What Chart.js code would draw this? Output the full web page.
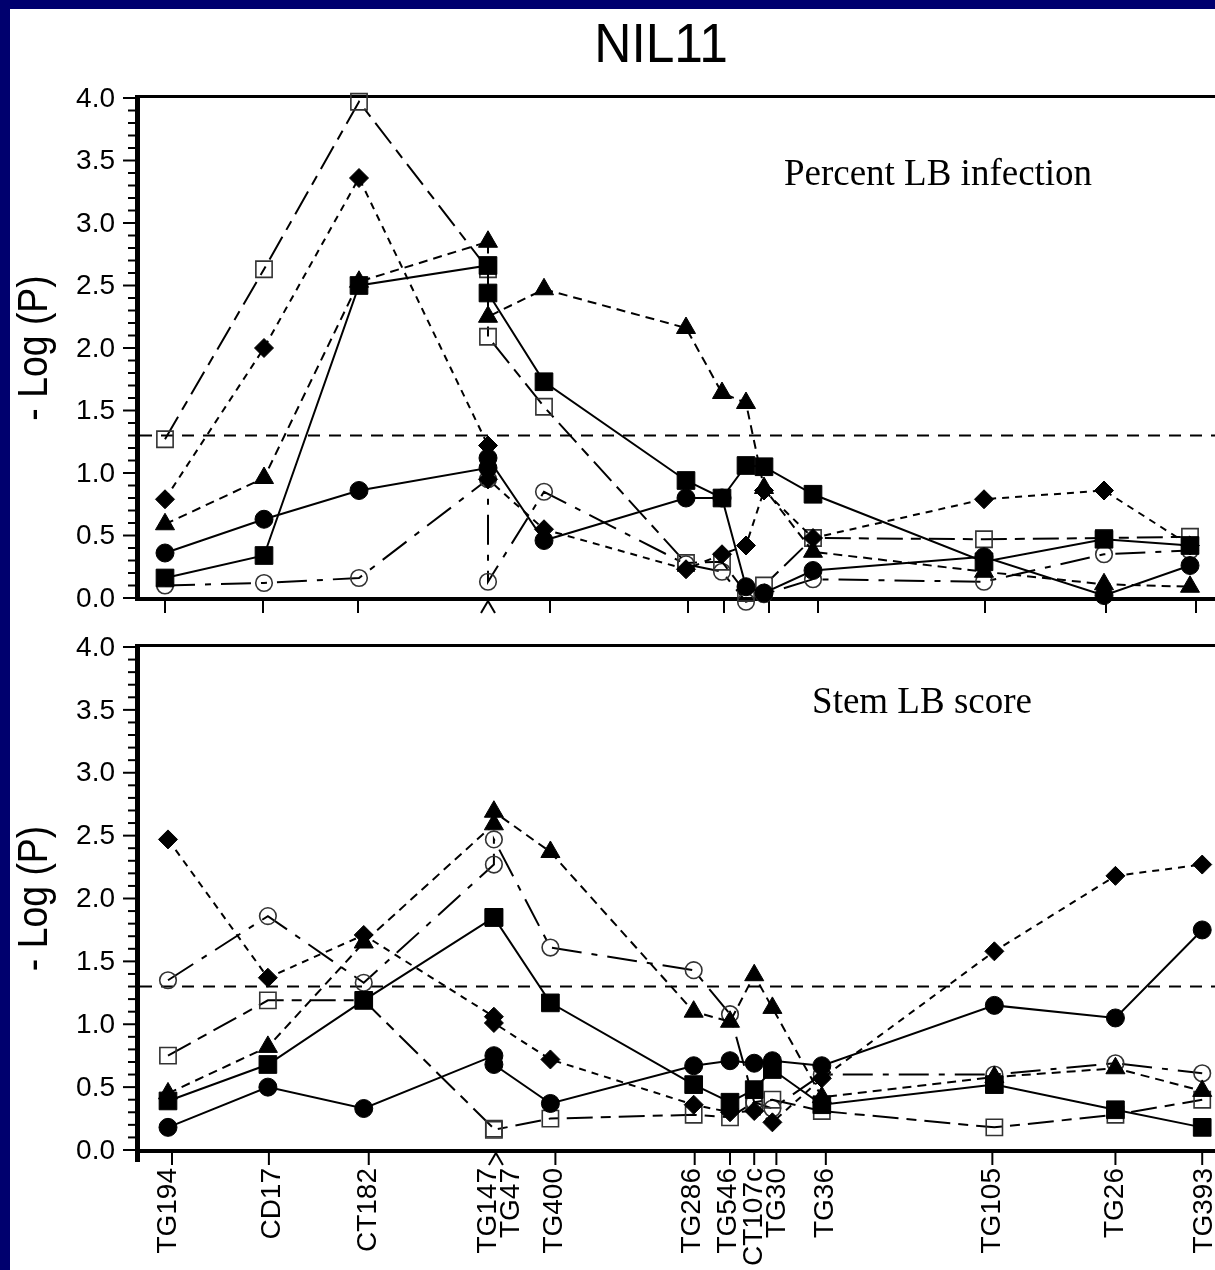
<!DOCTYPE html>
<html>
<head>
<meta charset="utf-8">
<script src="https://cdn.jsdelivr.net/npm/chart.js@4.4.1/dist/chart.umd.min.js"></script>
<style>
  html, body { margin:0; padding:0; width:1215px; height:1270px; overflow:hidden; background:#00006e; }
  #paper { position:absolute; left:10px; top:9px; width:1260px; height:1300px; background:#ffffff; }
  .wrap { position:absolute; left:0; top:0; width:1260px; height:1270px; }
  .wrap canvas { display:block; }
</style>
</head>
<body>
<div id="paper"></div>
<div class="wrap"><canvas id="topChart"></canvas></div>
<div class="wrap"><canvas id="botChart"></canvas></div>
<script>
// ---------------- DATA ----------------
const chartTitle = 'NIL11';
const yAxisTitle = '- Log (P)';
const markers = ['TG194','CD17','CT182','TG147','TG47','TG400','TG286','TG546','CT107c','TG30','TG36','TG105','TG26','TG393'];
const mapPos  = [0, 9.9, 19.4, 32.3, 32.3, 37.9, 52.1, 55.7, 58.1, 59.9, 64.8, 81.9, 93.9, 102.5];
const yTickValues = [0, 0.5, 1.0, 1.5, 2.0, 2.5, 3.0, 3.5, 4.0];
const threshold = 1.3;

// Panel 1: Percent LB infection
const topTitle = 'Percent LB infection';
const topFilledCircle = [0.36, 0.63, 0.86, 1.04, 1.12, 0.46, 0.80, 0.80, 0.09, 0.04, 0.22, 0.33, 0.02, 0.26];
const topFilledSquare = [0.16, 0.34, 2.50, 2.66, 2.44, 1.73, 0.94, 0.80, 1.06, 1.05, 0.83, 0.29, 0.47, 0.42];
const topTriangle     = [0.59, 0.96, 2.53, 2.85, 2.25, 2.47, 2.16, 1.64, 1.56, 0.88, 0.37, 0.21, 0.11, 0.09];
const topDiamond      = [0.79, 2.00, 3.36, 1.22, 0.95, 0.55, 0.23, 0.35, 0.42, 0.86, 0.48, 0.79, 0.86, 0.42];
const topOpenSquare   = [1.27, 2.63, 3.97, 2.63, 2.09, 1.53, 0.28, 0.29, 0.04, 0.10, 0.48, 0.47, 0.48, 0.49];
const topOpenCircle   = [0.10, 0.12, 0.16, 0.95, 0.13, 0.85, 0.27, 0.21, -0.03, 0.03, 0.15, 0.13, 0.35, 0.38];

// Panel 2: Stem LB score
const botTitle = 'Stem LB score';
const botFilledCircle = [0.18, 0.50, 0.33, 0.75, 0.68, 0.37, 0.67, 0.71, 0.69, 0.71, 0.67, 1.15, 1.05, 1.75];
const botFilledSquare = [0.39, 0.68, 1.19, 1.85, 1.85, 1.17, 0.52, 0.38, 0.48, 0.64, 0.36, 0.52, 0.32, 0.18];
const botTriangle     = [0.45, 0.82, 1.65, 2.59, 2.69, 2.37, 1.10, 1.02, 1.39, 1.13, 0.42, 0.58, 0.65, 0.47];
const botDiamond      = [2.47, 1.37, 1.71, 1.06, 1.01, 0.72, 0.36, 0.30, 0.31, 0.22, 0.57, 1.58, 2.18, 2.27];
const botOpenSquare   = [0.75, 1.19, 1.19, 0.17, 0.16, 0.25, 0.28, 0.26, 0.38, 0.40, 0.31, 0.18, 0.28, 0.40];
const botOpenCircle   = [1.35, 1.86, 1.33, 2.27, 2.47, 1.61, 1.43, 1.08, 0.38, 0.33, 0.60, 0.60, 0.69, 0.61];

// ---------------- LAYOUT / STYLE ----------------
const FONT = '"Liberation Sans", Arial, Helvetica, sans-serif';
const SERIF = '"Liberation Serif", "Times New Roman", serif';

const styles = [
  { pointStyle:'circle',   radius:9,    fill:'#000', border:'#000', bw:1,   dash:[] },
  { pointStyle:'rect',     radius:12.5, fill:'#000', border:'#000', bw:1,   dash:[] },
  { pointStyle:'triangle', radius:11,   fill:'#000', border:'#000', bw:1,   dash:[9,6] },
  { pointStyle:'rectRot',  radius:9.5,  fill:'#000', border:'#000', bw:1,   dash:[7,6] },
  { pointStyle:'rect',     radius:11.5, fill:'rgba(0,0,0,0)', border:'#333', bw:1.6, dash:[26,8,10,8] },
  { pointStyle:'circle',   radius:8.3,  fill:'rgba(0,0,0,0)', border:'#333', bw:1.6, dash:[30,10,6,10] }
];

function seg(ctx, x1, y1, x2, y2) {
  ctx.beginPath(); ctx.moveTo(x1, y1); ctx.lineTo(x2, y2); ctx.stroke();
}

function buildDatasets(seriesList, xmin, xmax) {
  const ds = seriesList.map((vals, k) => {
    const s = styles[k];
    return {
      data: vals.map((v, i) => ({ x: mapPos[i], y: v })),
      borderColor: '#000',
      borderWidth: 2,
      borderDash: s.dash,
      pointStyle: s.pointStyle,
      pointRadius: s.radius,
      pointBackgroundColor: s.fill,
      pointBorderColor: s.border,
      pointBorderWidth: s.bw,
      tension: 0,
      fill: false,
      clip: false
    };
  });
  ds.push({
    data: [{ x: xmin, y: threshold }, { x: xmax, y: threshold }],
    borderColor: '#000', borderWidth: 2, borderDash: [12, 9],
    pointRadius: 0, fill: false, clip: false
  });
  return ds;
}

const framePlugin = {
  id: 'frame',
  beforeDatasetsDraw(chart, args, o) {
    const ctx = chart.ctx, a = chart.chartArea;
    const xs = chart.scales.x, ys = chart.scales.y;
    const L = a.left, T = a.top, B = a.bottom;
    ctx.save();
    ctx.setLineDash([]);
    ctx.strokeStyle = '#000'; ctx.fillStyle = '#000';
    ctx.lineCap = 'butt';
    // frame top
    ctx.lineWidth = 3; seg(ctx, L - 2, T - 1.5, a.right + 20, T - 1.5);
    // bottom axis
    ctx.lineWidth = 4; seg(ctx, L - 5, B + 1, a.right + 20, B + 1);
    // left axis
    ctx.lineWidth = 5; seg(ctx, L - 2.5, T - 3, L - 2.5, B + o.axisExtend);
    // y ticks (minor every 0.1, major at labelled values)
    ctx.lineWidth = 2;
    for (let k = 0; k <= 40; k++) {
      const v = k / 10;
      const py = ys.getPixelForValue(v);
      const major = yTickValues.some(t => Math.abs(t - v) < 1e-6);
      seg(ctx, L - (major ? 17 : 12), py, L - 2, py);
    }
    // y labels
    ctx.font = '28px ' + FONT;
    ctx.textAlign = 'right'; ctx.textBaseline = 'middle';
    yTickValues.forEach(v => ctx.fillText(v.toFixed(1), L - 25, ys.getPixelForValue(v) + 1));
    // x ticks
    ctx.lineWidth = 2;
    for (let i = 0; i < markers.length; i++) {
      if (i > 0 && mapPos[i] === mapPos[i - 1]) continue;
      const sh = o.tickShift[i];
      if (sh === null) continue;
      const px = xs.getPixelForValue(mapPos[i]) + sh;
      if (i < markers.length - 1 && mapPos[i] === mapPos[i + 1]) {
        seg(ctx, px, B + 3, px - 7, B + 15);
        seg(ctx, px, B + 3, px + 7, B + 15);
      } else {
        seg(ctx, px, B + 3, px, B + 15);
      }
    }
    // x labels
    if (o.showLabels) {
      ctx.font = '28px ' + FONT;
      for (let i = 0; i < markers.length; i++) {
        const px = xs.getPixelForValue(mapPos[i]) + o.labelShift[i];
        ctx.save();
        ctx.translate(px, B + 18);
        ctx.rotate(-Math.PI / 2);
        ctx.textAlign = 'right'; ctx.textBaseline = 'middle';
        ctx.fillText(markers[i], 0, 0);
        ctx.restore();
      }
    }
    // y-axis title
    ctx.save();
    ctx.translate(47, (T + B) / 2);
    ctx.rotate(-Math.PI / 2);
    ctx.scale(0.89, 1);
    ctx.font = '42px ' + FONT;
    ctx.textAlign = 'center'; ctx.textBaseline = 'alphabetic';
    ctx.fillText(yAxisTitle, 0, 0);
    ctx.restore();
    // panel label
    ctx.font = '37px ' + SERIF;
    ctx.textAlign = 'center'; ctx.textBaseline = 'alphabetic';
    ctx.fillText(o.panelTitle, o.panelTitleX, o.panelTitleY);
    // main title
    if (o.mainTitle) {
      ctx.save();
      ctx.translate(661, 62);
      ctx.scale(0.92, 1);
      ctx.font = '56px ' + FONT;
      ctx.textAlign = 'center';
      ctx.fillText(o.mainTitle, 0, 0);
      ctx.restore();
    }
    ctx.restore();
  }
};

function makeChart(id, seriesList, xmin, xmax, padding, frameOpts) {
  return new Chart(document.getElementById(id), {
    type: 'line',
    data: { datasets: buildDatasets(seriesList, xmin, xmax) },
    options: {
      responsive: true,
      maintainAspectRatio: false,
      devicePixelRatio: 1,
      animation: false,
      events: [],
      layout: { padding: padding },
      plugins: { legend: { display: false }, title: { display: false }, tooltip: { enabled: false }, frame: frameOpts },
      scales: {
        x: { type: 'linear', min: xmin, max: xmax, display: false },
        y: { type: 'linear', min: 0, max: 4, display: false }
      }
    },
    plugins: [framePlugin]
  });
}

// chart area: left 140, right 1235 (canvas 1260 wide, right padding 25 > point overflow)
makeChart('topChart',
  [topFilledCircle, topFilledSquare, topTriangle, topDiamond, topOpenSquare, topOpenCircle],
  -2.5, 107,
  { left: 140, top: 98, right: 25, bottom: 672 },
  { showLabels: false, axisExtend: 3,
    tickShift: [0, -1, -1, 0, 0, 6, 2, 2, null, 5, 5, 1, 2, 6],
    labelShift: [],
    panelTitle: topTitle, panelTitleX: 938, panelTitleY: 185,
    mainTitle: chartTitle });

makeChart('botChart',
  [botFilledCircle, botFilledSquare, botTriangle, botDiamond, botOpenSquare, botOpenCircle],
  -2.775, 105.75,
  { left: 140, top: 647, right: 25, bottom: 120 },
  { showLabels: true, axisExtend: 12,
    tickShift: [4, 1, 5, 2, 2, 5, 1, 0, 0, 4, 4, -2, 0, 0],
    labelShift: [0, 4, 5, -6, 17, 4, -1, -2, 0, 5, 3, -2, 0, 2],
    panelTitle: botTitle, panelTitleX: 922, panelTitleY: 713,
    mainTitle: null });
</script>
</body>
</html>
